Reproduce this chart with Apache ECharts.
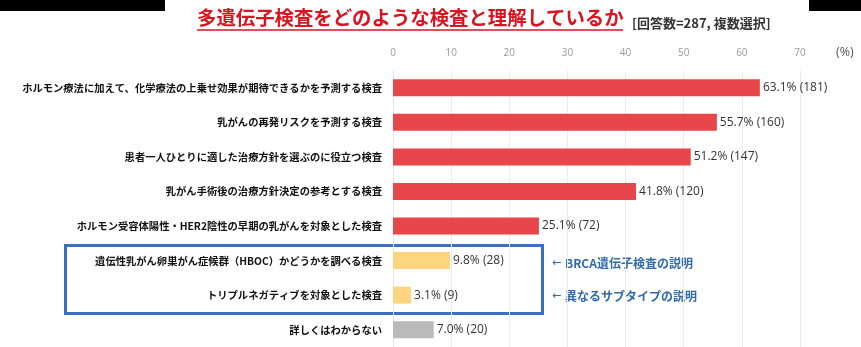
<!DOCTYPE html>
<html>
<head>
<meta charset="utf-8">
<script src="https://cdn.jsdelivr.net/npm/echarts@6/dist/echarts.min.js"></script>
<style>
  html, body { margin: 0; padding: 0; background: #fff; }
  #chart { width: 861px; height: 347px; }
</style>
</head>
<body>
<div id="chart"></div>
<script>
// Survey answers: how respondents understand multigene testing (n=287, multiple answers)
var categories = [
  'ホルモン療法に加えて、化学療法の上乗せ効果が期待できるかを予測する検査',
  '乳がんの再発リスクを予測する検査',
  '患者一人ひとりに適した治療方針を選ぶのに役立つ検査',
  '乳がん手術後の治療方針決定の参考とする検査',
  'ホルモン受容体陽性・HER2陰性の早期の乳がんを対象とした検査',
  '遺伝性乳がん卵巣がん症候群（HBOC）かどうかを調べる検査',
  'トリプルネガティブを対象とした検査',
  '詳しくはわからない'
];
var percents = [63.1, 55.7, 51.2, 41.8, 25.1, 9.8, 3.1, 7.0];
var counts = [181, 160, 147, 120, 72, 28, 9, 20];
// answer group: correct description / other description / unknown
var groups = ['main', 'main', 'main', 'main', 'main', 'other', 'other', 'unknown'];
var xTicks = [0, 10, 20, 30, 40, 50, 60, 70];
var notes = ['←BRCA遺伝子検査の説明', '←異なるサブタイプの説明'];

var groupColor = { main: '#e8464a', other: '#fdd57f', unknown: '#bababa' };
var jp = '"Noto Sans CJK JP", "Noto Sans", sans-serif';
var noteColor = '#2f6aab';

// side notes: arrow glyph (compact Latin font) and text drawn as two pieces
function noteGraphics(text, y) {
  return [
    { type: 'text', x: 552, y: y + 1, style: { text: text.charAt(0), fill: noteColor, font: '11px "DejaVu Sans", sans-serif' } },
    { type: 'text', x: 565, y: y, style: { text: text.slice(1), fill: noteColor, font: 'bold 12px ' + jp } }
  ];
}

var chart = echarts.init(document.getElementById('chart'));
chart.setOption({
  animation: false,
  grid: { left: 393, top: 70.5, width: 407, height: 280 },
  xAxis: {
    type: 'value',
    position: 'top',
    min: xTicks[0],
    max: xTicks[xTicks.length - 1],
    interval: xTicks[1] - xTicks[0],
    axisLine: { show: false },
    axisTick: { show: false },
    axisLabel: { color: '#9a9a9a', fontSize: 10, margin: 12, fontFamily: '"Open Sans", sans-serif' },
    splitLine: { lineStyle: { color: '#ececec', width: 1 } }
  },
  yAxis: {
    type: 'category',
    data: categories,
    inverse: true,
    axisLine: { show: true, lineStyle: { color: '#e4e4e4' } },
    axisTick: { show: false },
    axisLabel: { color: '#111', fontSize: 10.3, fontWeight: 'bold', margin: 11, fontFamily: jp }
  },
  series: [{
    type: 'bar',
    barWidth: 17,
    data: percents.map(function (v, i) {
      return { value: v, itemStyle: { color: groupColor[groups[i]] } };
    }),
    label: {
      show: true,
      position: 'right',
      distance: 3,
      color: '#333',
      fontSize: 12,
      fontFamily: '"Open Sans", sans-serif',
      formatter: function (p) {
        return percents[p.dataIndex].toFixed(1) + '% (' + counts[p.dataIndex] + ')';
      }
    }
  }],
  graphic: [
    { type: 'rect', shape: { x: 0, y: 0, width: 165, height: 11 }, style: { fill: '#000' } },
    { type: 'rect', shape: { x: 809, y: 0, width: 52, height: 11 }, style: { fill: '#000' } },
    {
      type: 'text', x: 197, y: 7.5,
      style: { text: '多遺伝子検査をどのような検査と理解しているか', fill: '#d7141f', font: 'bold 19.4px ' + jp }
    },
    { type: 'line', shape: { x1: 197, y1: 30, x2: 623, y2: 30 }, style: { stroke: '#d7141f', lineWidth: 1.5 } },
    {
      type: 'text', x: 632, y: 17,
      style: { text: '[回答数=287, 複数選択]', fill: '#333', font: 'bold 13px ' + jp }
    },
    {
      type: 'text', x: 836, y: 46,
      style: { text: '(%)', fill: '#555', font: '12.5px "Open Sans", sans-serif' }
    },
    {
      type: 'rect', shape: { x: 65.5, y: 245.5, width: 477, height: 68 },
      style: { fill: 'none', stroke: '#3c6ec4', lineWidth: 3 }
    }
  ].concat(noteGraphics(notes[0], 257), noteGraphics(notes[1], 290))
});
</script>
</body>
</html>
